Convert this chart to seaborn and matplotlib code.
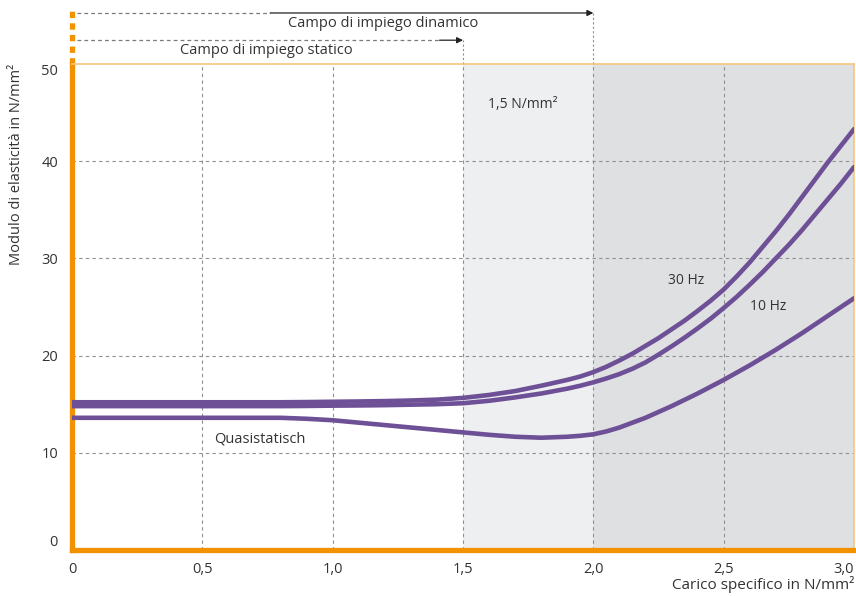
import numpy as np
import matplotlib
matplotlib.use("Agg")
import matplotlib.pyplot as plt
import pandas as pd
import seaborn as sns

# curve data
carico = [0.0, 0.5, 0.8, 0.9, 1.0, 1.1, 1.2, 1.3, 1.4, 1.5, 1.6, 1.7, 1.8,
          1.9, 1.95, 2.0, 2.05, 2.1, 2.15, 2.2, 2.25, 2.3, 2.35, 2.4, 2.45,
          2.5, 2.55, 2.6, 2.65, 2.7, 2.75, 2.8, 2.85, 2.9, 2.95, 3.0]
hz30 = [15.2, 15.2, 15.2, 15.22, 15.25, 15.28, 15.32, 15.38, 15.47, 15.65, 15.95, 16.35, 16.9,
        17.5, 17.85, 18.3, 18.85, 19.5, 20.2, 21.0, 21.8, 22.7, 23.6, 24.6, 25.65,
        26.8, 28.15, 29.6, 31.2, 32.8, 34.5, 36.3, 38.1, 39.9, 41.6, 43.3]
hz10 = [14.8, 14.8, 14.8, 14.82, 14.85, 14.87, 14.9, 14.95, 15.0, 15.1, 15.35, 15.7, 16.1,
        16.6, 16.9, 17.25, 17.65, 18.1, 18.65, 19.3, 20.1, 20.95, 21.85, 22.8, 23.8,
        24.9, 26.05, 27.3, 28.6, 30.0, 31.4, 32.9, 34.5, 36.1, 37.7, 39.4]
quasi = [13.6, 13.6, 13.6, 13.5, 13.35, 13.1, 12.85, 12.6, 12.35, 12.1, 11.85, 11.65, 11.55,
         11.65, 11.75, 11.9, 12.2, 12.6, 13.1, 13.6, 14.2, 14.8, 15.45, 16.1, 16.8,
         17.5, 18.25, 19.0, 19.8, 20.6, 21.45, 22.3, 23.2, 24.1, 25.0, 25.9]

xticks = [0, 0.5, 1.0, 1.5, 2.0, 2.5, 3.0]
xlabels = ["0", "0,5", "1,0", "1,5", "2,0", "2,5", "3,0"]
yticks = [0, 10, 20, 30, 40, 50]

sns.set_style("white")
plt.rcParams['font.family'] = ['Open Sans', 'DejaVu Sans']

purple = '#6e5097'
orange = '#f39200'
txt = '#333333'

df = pd.DataFrame({'x': carico * 3,
                   'y': hz30 + hz10 + quasi,
                   'serie': ['30 Hz'] * len(carico) + ['10 Hz'] * len(carico) + ['Quasistatisch'] * len(carico)})

fig = plt.figure(figsize=(8.56, 5.96), dpi=100)
ax = fig.add_axes([0.0841, 0.0772, 0.9136, 0.8154])

# shaded zones
ax.axvspan(1.5, 2.0, color='#eeeff1', zorder=0, lw=0)
ax.axvspan(2.0, 3.0, color='#dfe0e2', zorder=0, lw=0)

# grid
for gx in [0.5, 1.0, 1.5, 2.0, 2.5]:
    ax.axvline(gx, color='#8f8f8f', lw=0.8, dashes=(3, 3), zorder=1)
for gy in [10, 20, 30, 40]:
    ax.axhline(gy, color='#8f8f8f', lw=0.8, dashes=(3, 3), zorder=1)

sns.lineplot(data=df, x='x', y='y', hue='serie', palette=[purple] * 3,
             lw=3.3, legend=False, ax=ax, zorder=3, estimator=None, sort=False,
             solid_joinstyle='round')

ax.set_xlim(0, 3.0)
ax.set_ylim(0, 50)
ax.set_xticks(xticks)
ax.set_xticklabels(xlabels)
ax.set_yticks(yticks)
ax.tick_params(length=0, labelsize=10.5, colors=txt)
ax.tick_params(axis='x', pad=9)
ax.tick_params(axis='y', pad=10)
ax.get_xticklabels()[-1].set_ha('right')
ax.get_yticklabels()[0].set_va('bottom')
ax.get_yticklabels()[-1].set_va('top')

for s in ['left', 'bottom']:
    ax.spines[s].set_color(orange)
    ax.spines[s].set_linewidth(3.8)
for s in ['top', 'right']:
    ax.spines[s].set_color('#f5c77e')
    ax.spines[s].set_linewidth(1.2)

ax.set_ylabel("Modulo di elasticità in N/mm²", fontsize=10.5, color=txt)
ax.yaxis.set_label_coords(-0.061, 1.0)
ax.yaxis.label.set_ha('right')
ax.set_xlabel("Carico specifico in N/mm²", fontsize=11, color=txt)
ax.xaxis.set_label_coords(1.0, -0.054)
ax.xaxis.label.set_ha('right')

# dashed orange extension of the y axis
ax.plot([0, 0], [50, 55.5], color=orange, lw=3.8, dashes=(1.2, 1.0), clip_on=False,
        solid_capstyle='butt', dash_capstyle='butt')

# usage range arrows above the plot
y_dyn = 55.25
y_sta = 52.45
ax.plot([0.02, 0.76], [y_dyn, y_dyn], color='#7a7a7a', lw=0.9, dashes=(3, 2.5), clip_on=False)
ax.annotate("", xy=(2.0, y_dyn), xytext=(0.76, y_dyn), annotation_clip=False,
            arrowprops=dict(arrowstyle='-|>', color='#222222', lw=0.9,
                            mutation_scale=9, shrinkA=0, shrinkB=0))
ax.plot([0.02, 1.41], [y_sta, y_sta], color='#7a7a7a', lw=0.9, dashes=(3, 2.5), clip_on=False)
ax.annotate("", xy=(1.5, y_sta), xytext=(1.41, y_sta), annotation_clip=False,
            arrowprops=dict(arrowstyle='-|>', color='#222222', lw=0.9,
                            mutation_scale=9, shrinkA=0, shrinkB=0))
ax.plot([2.0, 2.0], [50, y_dyn], color='#8f8f8f', lw=0.8, dashes=(2, 2), clip_on=False)
ax.plot([1.5, 1.5], [50, y_sta], color='#8f8f8f', lw=0.8, dashes=(2, 2), clip_on=False)

ax.text(1.193, 54.2, "Campo di impiego dinamico", ha='center', va='center',
        fontsize=10.5, color=txt, clip_on=False)
ax.text(0.744, 51.4, "Campo di impiego statico", ha='center', va='center',
        fontsize=10.5, color=txt, clip_on=False)

# curve labels
ax.text(0.72, 11.4, "Quasistatisch", ha='center', va='center', fontsize=10.5, color=txt)
ax.text(2.355, 27.7, "30 Hz", ha='center', va='center', fontsize=10, color=txt)
ax.text(2.67, 25.1, "10 Hz", ha='center', va='center', fontsize=10, color=txt)
ax.text(1.73, 45.8, "1,5 N/mm²", ha='center', va='center', fontsize=10, color=txt)

plt.savefig("out.png", dpi=100)
